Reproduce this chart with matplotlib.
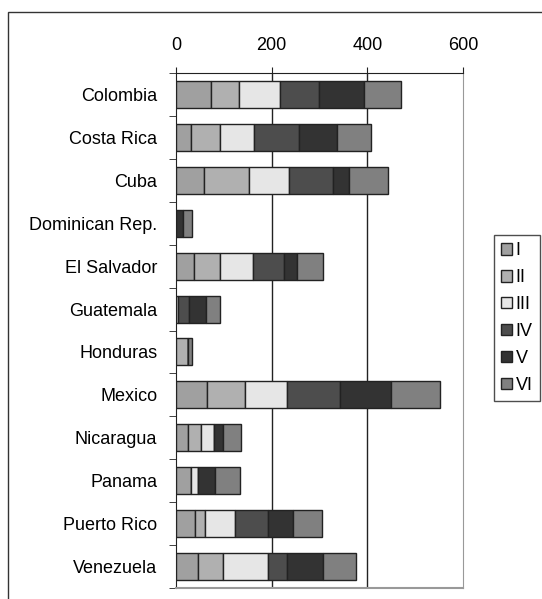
import numpy as np
import matplotlib.pyplot as plt
from matplotlib.patches import Rectangle

plt.rcParams['font.family'] = ['Liberation Sans', 'DejaVu Sans']

countries = ['Colombia', 'Costa Rica', 'Cuba', 'Dominican Rep.', 'El Salvador',
             'Guatemala', 'Honduras', 'Mexico', 'Nicaragua', 'Panama',
             'Puerto Rico', 'Venezuela']
series = ['I', 'II', 'III', 'IV', 'V', 'VI']
s1 = [73, 32, 59, 0, 38, 0, 0, 65, 26, 32, 40, 46]
s2 = [59, 61, 94, 0, 55, 0, 26, 80, 26, 0, 21, 52]
s3 = [85, 71, 83, 0, 68, 4, 0, 87, 28, 15, 62, 94]
s4 = [81, 94, 92, 0, 65, 24, 0, 110, 0, 0, 69, 40]
s5 = [96, 78, 33, 14, 27, 34, 0, 107, 19, 35, 52, 75]
s6 = [76, 72, 82, 20, 55, 31, 8, 103, 36, 51, 61, 69]
colors = ['#a0a0a0', '#b0b0b0', '#e6e6e6', '#4d4d4d', '#333333', '#808080']

fig = plt.figure(figsize=(5.42, 5.99), dpi=100)
ax = fig.add_axes([176/542, 1 - 588/599, (463 - 176)/542, (588 - 73)/599])

y = np.arange(len(countries))
left = np.zeros(len(countries))
handles = []
for vals, name, c in zip([s1, s2, s3, s4, s5, s6], series, colors):
    vals = np.array(vals, dtype=float)
    b = ax.barh(y, vals, left=left, height=0.63, color=c,
                edgecolor='#222222', linewidth=1.0, label=name, zorder=3)
    handles.append(b)
    left += vals

ax.set_xlim(0, 600)
ax.set_ylim(len(countries) - 0.5, -0.5)
ax.xaxis.tick_top()
ax.set_xticks([0, 200, 400, 600])
ax.tick_params(axis='x', direction='out', length=4, labelsize=13, pad=10,
               color='#222222')
for xv in [200, 400]:
    ax.axvline(xv, color='#222222', linewidth=1.0, zorder=1)

ax.set_yticks(y)
ax.set_yticklabels(countries, fontsize=13)
ax.tick_params(axis='y', length=0, pad=13.5)
ax.set_yticks(np.arange(len(countries) + 1) - 0.5, minor=True)
ax.tick_params(axis='y', which='minor', length=5, direction='out', color='#222222')

ax.spines['left'].set_color('#222222')
ax.spines['top'].set_color('#222222')
ax.spines['right'].set_color('#999999')
ax.spines['bottom'].set_color('#999999')
ax.spines['bottom'].set_linewidth(1.5)

leg = fig.legend(handles=handles, labels=series, loc='upper right',
                 bbox_to_anchor=(540/542, 1 - 235/599), frameon=True,
                 fancybox=False, edgecolor='#222222', fontsize=13,
                 handlelength=0.6, handleheight=0.6, handletextpad=0.2,
                 labelspacing=0.55, borderpad=0.4, borderaxespad=0)
leg.get_frame().set_linewidth(1.0)

fig.patches.append(Rectangle((8/542, -0.05), 0.2 + 1, 1 - 12/599 + 0.05,
                             transform=fig.transFigure, fill=False,
                             edgecolor='#333333', linewidth=1.0))

fig.savefig('out.png', dpi=100)
